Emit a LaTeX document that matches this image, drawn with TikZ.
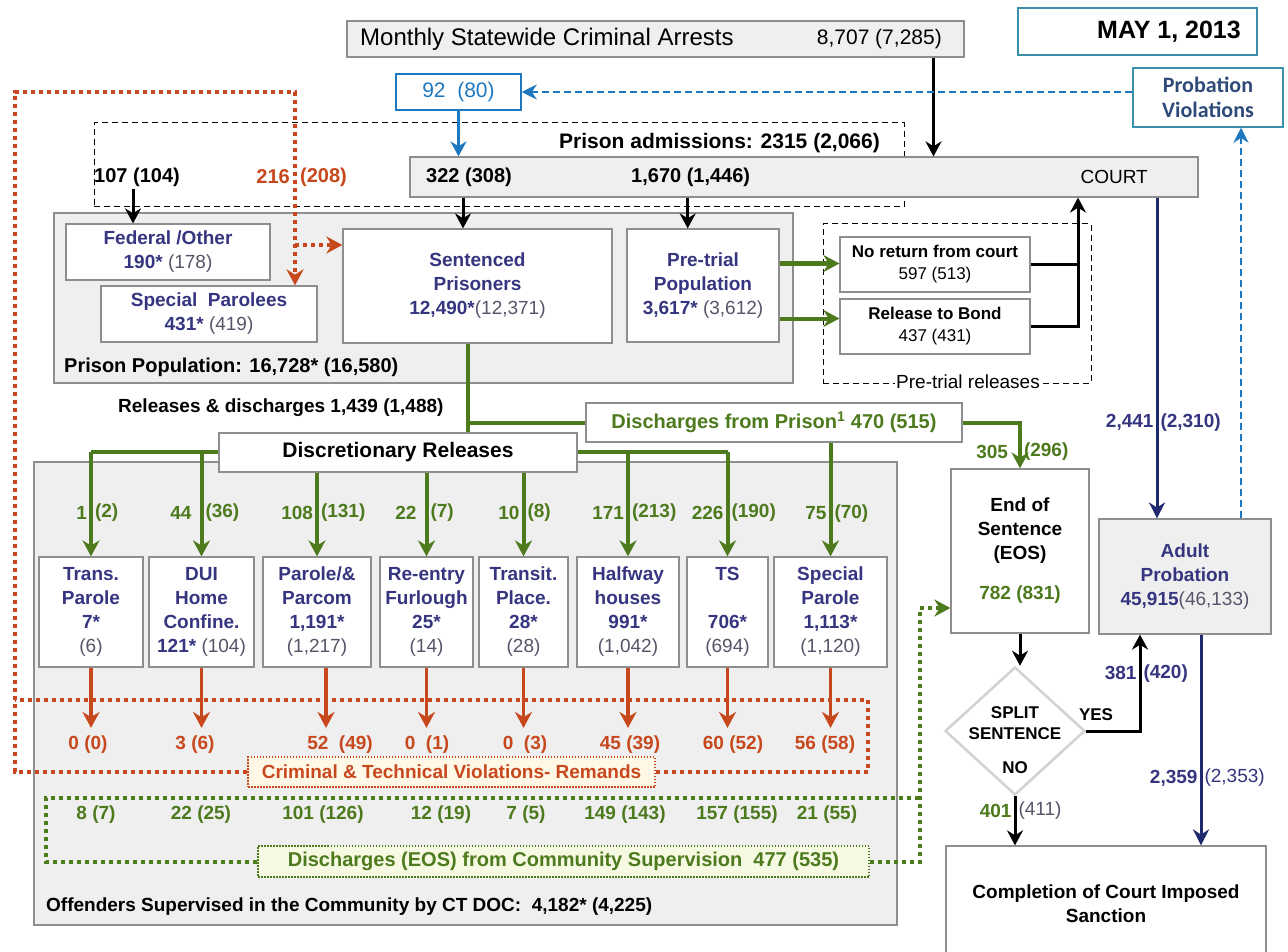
\documentclass[tikz,border=0pt]{standalone}
\usepackage{fontspec}
\setmainfont{Liberation Sans}
\newfontfamily\calib{Carlito}
\usetikzlibrary{arrows.meta,shapes.geometric,positioning}

\definecolor{navy}{HTML}{353580}
\definecolor{pgray}{HTML}{55556A}
\definecolor{grn}{HTML}{4E7A1E}
\definecolor{rust}{HTML}{C8481E}
\definecolor{blu}{HTML}{1E78C0}
\definecolor{tealb}{HTML}{3A8FAA}
\definecolor{pvblue}{HTML}{2E4A78}
\definecolor{navyl}{HTML}{1F2A6E}
\definecolor{lgray}{HTML}{EFEFEF}
\definecolor{bord}{HTML}{8E8E8E}
\definecolor{cream}{HTML}{FFF8E6}
\definecolor{pgreen}{HTML}{F6FAE2}
\definecolor{dgray}{HTML}{D2D2D2}

\newcommand{\fsz}[2]{\fontsize{#1}{#2}\selectfont}
\newcommand{\pn}[1]{{\mdseries\color{pgray}#1}}

\begin{document}
\begin{tikzpicture}[x=1pt,y=-1pt]
  \tikzstyle{every node}=[font=\fsz{19}{23}, inner sep=2pt]
  \tikzstyle{box}=[draw=bord, line width=1.2pt, fill=white, align=center, inner sep=0pt]
  \tikzstyle{gbox}=[box, fill=lgray]
  \tikzstyle{ttl}=[font=\fsz{19}{24}\bfseries, text=navy]
  \tikzstyle{bold}=[font=\fsz{20}{24}\bfseries]
  \tikzstyle{glab}=[text=grn, font=\fsz{19}{23}\bfseries]
  \tikzstyle{rlab}=[text=rust, font=\fsz{19}{23}\bfseries]
  \tikzstyle{nlab}=[text=navy, font=\fsz{19}{23}\bfseries]
  \tikzstyle{garrow}=[-{Stealth[length=16pt,width=17pt]}, line width=4pt, draw=grn]
  \tikzstyle{gline}=[line width=4pt, draw=grn]
  \tikzstyle{barrow}=[-{Stealth[length=15pt,width=16pt]}, line width=3pt, draw=black]
  \tikzstyle{bline}=[line width=3pt, draw=black]
  \tikzstyle{rarrow}=[-{Stealth[length=16pt,width=17pt]}, line width=3.5pt, draw=rust, shorten >=6pt]
  \tikzstyle{narrow}=[-{Stealth[length=16pt,width=16pt]}, line width=3pt, draw=navyl]
  \tikzstyle{blarrow}=[-{Stealth[length=15pt,width=16pt]}, line width=3pt, draw=blu]
  \tikzstyle{bldash}=[-{Stealth[length=15pt,width=15pt]}, line width=2.2pt, draw=blu, dash pattern=on 7pt off 4pt]
  \tikzstyle{rdot}=[line width=4pt, draw=rust, dash pattern=on 4pt off 4pt]
  \tikzstyle{gdot}=[line width=4pt, draw=grn, dash pattern=on 4pt off 4pt]
  \useasboundingbox[fill=white] (0,0) rectangle (1288,952);

  % top of the chart
  \node[gbox, minimum width=617pt, minimum height=36pt] (arrests) at (655.5,39) {};
  \node[anchor=west, font=\fsz{24}{28}] (artxt) at (358,39) {Monthly Statewide Criminal Arrests};
  \node[anchor=east, font=\fsz{21}{25}] (arnum) at (944,39) {8,707 (7,285)};
  \node[draw=tealb, line width=1.5pt, minimum width=239pt, minimum height=47pt] (date) at (1137.5,31.5) {};
  \node[anchor=east, font=\fsz{25}{30}\bfseries] (datetxt) at (1243,31.5) {MAY 1, 2013};
  \node[draw=blu, line width=1.5pt, fill=white, minimum width=125pt, minimum height=36pt, text=blu, font=\fsz{21}{25}] (n92) at (458.5,92) {92\ \ (80)};
  \node[draw=tealb, line width=1.5pt, fill=white, minimum width=150pt, minimum height=59pt, align=center, text=pvblue, font=\calib\fsz{22}{25}\bfseries] (pviol) at (1208,97.5) {Probation\\Violations};

  % admissions and court
  \node[draw, line width=1pt, dash pattern=on 6pt off 4pt, minimum width=810pt, minimum height=84pt] (adm) at (499,165) {};
  \node[anchor=east, font=\fsz{21}{25}\bfseries] (admtxt) at (882,143) {Prison admissions: 2315 (2,066)};
  \node[gbox, minimum width=788pt, minimum height=40pt] (court) at (804,177) {};
  \node[anchor=west, bold] (n322) at (424,177) {322 (308)};
  \node[anchor=west, bold] (n1670) at (629,177) {1,670 (1,446)};
  \node[anchor=east] (courttxt) at (1150,177) {COURT};
  \node[anchor=west, bold] (n107) at (92,177) {107 (104)};
  \node[anchor=east, bold, text=rust] (n216) at (292,177) {216};
  \node[anchor=west, bold, text=rust] (n208) at (298,177) {(208)};

  % prison population
  \node[gbox, minimum width=739pt, minimum height=170pt] (pop) at (423.5,298) {};
  \node[anchor=west, bold] (poptxt) at (62,367) {Prison Population: 16,728* (16,580)};
  \node[box, ttl, minimum width=204pt, minimum height=56pt] (fed) at (168,252) {Federal /Other\\190* \pn{(178)}};
  \node[box, ttl, minimum width=216pt, minimum height=56pt] (spar) at (209,314) {Special\ \ Parolees\\431* \pn{(419)}};
  \node[box, ttl, minimum width=269pt, minimum height=114pt] (sent) at (477.5,286) {Sentenced\\Prisoners\\12,490*\pn{(12,371)}};
  \node[box, ttl, minimum width=152pt, minimum height=113pt] (pre) at (703,285.5) {Pre-trial\\Population\\3,617* \pn{(3,612)}};

  % pre-trial releases
  \node[draw, line width=1pt, dash pattern=on 6pt off 4pt, minimum width=268pt, minimum height=159pt] (ptr) at (957,303.5) {};
  \node[fill=white, inner sep=1pt] (ptrtxt) at (968,382) {Pre-trial releases};
  \node[box, minimum width=190pt, minimum height=55pt, font=\fsz{17}{22}\bfseries] (noret) at (935,264.5) {No return from court\\\mdseries 597 (513)};
  \node[box, minimum width=190pt, minimum height=55pt, font=\fsz{17}{22}\bfseries] (bond) at (935,326.5) {Release to Bond\\\mdseries 437 (431)};

  % community supervision
  \node[gbox, minimum width=863pt, minimum height=463pt] (comm) at (465.5,693.5) {};
  \node[box, ttl, minimum width=104pt, minimum height=110pt] (trp) at (91,612) {Trans.\\Parole\\7*\\\pn{(6)}};
  \node[box, ttl, minimum width=105pt, minimum height=110pt] (dui) at (201.5,612) {DUI\\Home\\Confine.\\121* \pn{(104)}};
  \node[box, ttl, minimum width=108pt, minimum height=110pt] (par) at (317,612) {Parole/\&\\Parcom\\1,191*\\\pn{(1,217)}};
  \node[box, ttl, minimum width=93pt, minimum height=110pt] (ref) at (426.5,612) {Re-entry\\Furlough\\25*\\\pn{(14)}};
  \node[box, ttl, minimum width=89pt, minimum height=110pt] (tpl) at (523.5,612) {Transit.\\Place.\\28*\\\pn{(28)}};
  \node[box, ttl, minimum width=102pt, minimum height=110pt] (hwh) at (628,612) {Halfway\\houses\\991*\\\pn{(1,042)}};
  \node[box, ttl, minimum width=81pt, minimum height=110pt] (ts) at (727.5,612) {TS\\~\\706*\\\pn{(694)}};
  \node[box, ttl, minimum width=113pt, minimum height=110pt] (sp) at (830.5,612) {Special\\Parole\\1,113*\\\pn{(1,120)}};
  \node[anchor=west, bold, font=\fsz{19}{23}\bfseries] (reltxt) at (116,408) {Releases \& discharges 1,439 (1,488)};

  % green flows out of prison
  \coordinate (bus) at (0,452);
  \draw[gline] (trp.north |- bus) -- (ts.north |- bus);
  \node[box, minimum width=358pt, minimum height=39pt, font=\fsz{21}{25}\bfseries] (disc) at (398,452.5) {Discretionary Releases};
  \node[box, minimum width=376pt, minimum height=39pt, text=grn, font=\fsz{20}{24}\bfseries] (dpr) at (774,422.5) {Discharges from Prison\textsuperscript{1} 470\ (515)};
  \draw[gline] ([xshift=-10pt]sent.south) -- ([xshift=-10pt]sent.south |- disc.north);
  \draw[gline] ([xshift=-10pt]sent.south |- dpr.west) -- (dpr.west);
  \draw[garrow] (trp.north |- bus) -- node[glab,pos=.58,left]{1} node[glab,pos=.58,right]{(2)} (trp.north);
  \draw[garrow] (dui.north |- bus) -- node[glab,pos=.58,left=6pt]{44} node[glab,pos=.58,right]{(36)} (dui.north);
  \draw[garrow] (par.north |- disc.south) -- node[glab,pos=.48,left]{108} node[glab,pos=.48,right]{(131)} (par.north);
  \draw[garrow] (ref.north |- disc.south) -- node[glab,pos=.48,left=6pt]{22} node[glab,pos=.48,right]{(7)} (ref.north);
  \draw[garrow] (tpl.north |- disc.south) -- node[glab,pos=.48,left]{10} node[glab,pos=.48,right]{(8)} (tpl.north);
  \draw[garrow] (hwh.north |- bus) -- node[glab,pos=.58,left]{171} node[glab,pos=.58,right]{(213)} (hwh.north);
  \draw[garrow] (ts.north |- bus) -- node[glab,pos=.58,left]{226} node[glab,pos=.58,right]{(190)} (ts.north);
  \draw[garrow] (sp.north |- dpr.south) -- node[glab,pos=.62,left]{75} node[glab,pos=.62,right]{(70)} (sp.north);

  % end of sentence, probation and completion
  \node[box, minimum width=138pt, minimum height=164pt, font=\fsz{19}{24}\bfseries] (eos) at (1020,551) {End of\\Sentence\\(EOS)\\[16pt]\textcolor{grn}{782 (831)}};
  \node[gbox, ttl, minimum width=172pt, minimum height=115pt] (adult) at (1185,576.5) {Adult\\Probation\\45,915\pn{(46,133)}};
  \node[diamond, draw=dgray, line width=2.5pt, fill=white, minimum width=140pt, minimum height=128pt, inner sep=0pt] (split) at (1015,731) {};
  \node[align=center, font=\fsz{17}{21}\bfseries] (spltxt) at (1015,723) {SPLIT\\SENTENCE};
  \node[font=\fsz{17}{21}\bfseries] (notxt) at (1015,768) {NO};
  \node[font=\fsz{17}{21}\bfseries] (yestxt) at (1096,715) {YES};
  \node[box, minimum width=320pt, minimum height=116pt, font=\fsz{19}{24}\bfseries] (compl) at (1106,904) {Completion of Court Imposed\\Sanction};

  % violations and discharges from the community
  \foreach \i/\x/\t in {1/88/0 (0), 2/195/3 (6), 3/340/52\ \ (49), 4/427/0\ \ (1), 5/525/0\ \ (3), 6/630/45 (39), 7/733/60 (52), 8/825/56 (58)}
    \node[rlab] (r\i) at (\x,745) {\t};
  \foreach \i/\x/\t in {1/96/8 (7), 2/201/22 (25), 3/323/101 (126), 4/441/12 (19), 5/526/7 (5), 6/625/149 (143), 7/737/157 (155), 8/827/21 (55)}
    \node[glab] (d\i) at (\x,815) {\t};
  \draw[rarrow] (trp.south) -- (trp.south |- r1.north);
  \draw[rarrow] (dui.south) -- (dui.south |- r2.north);
  \draw[rarrow] ([xshift=9pt]par.south) -- ([xshift=9pt]par.south |- r3.north);
  \draw[rarrow] (ref.south) -- (ref.south |- r4.north);
  \draw[rarrow] (tpl.south) -- (tpl.south |- r5.north);
  \draw[rarrow] (hwh.south) -- (hwh.south |- r6.north);
  \draw[rarrow] (ts.south) -- (ts.south |- r7.north);
  \draw[rarrow] (sp.south) -- (sp.south |- r8.north);
  \node[draw=rust, line width=1.5pt, dash pattern=on 1.5pt off 1.5pt, fill=cream, minimum width=407pt, minimum height=30pt, text=rust, font=\fsz{19}{23}\bfseries] (crim) at (451.5,772) {Criminal \& Technical Violations- Remands};
  \node[draw=grn, line width=1.5pt, dash pattern=on 1.5pt off 1.5pt, fill=pgreen, minimum width=611pt, minimum height=31pt, text=grn, font=\fsz{20}{24}\bfseries] (dcs) at (563.5,861.5) {Discharges (EOS) from Community Supervision\ \ 477 (535)};
  \node[anchor=west, font=\fsz{19}{23}\bfseries] (offtxt) at (44,907) {Offenders Supervised in the Community by CT DOC:\ \ 4,182* (4,225)};

  % red remand loop
  \coordinate (rtl) at (15,92);
  \coordinate (rtr) at (295,92);
  \coordinate (rbr) at (868,700);
  \coordinate (sentin) at ([yshift=41pt]sent.west);
  \draw[rdot] (crim.east) -| (rbr) -- (rbr -| rtl);
  \draw[rdot, -{Stealth[length=16pt,width=17pt]}] (crim.west) -| (rtl) -- (rtr) -- (rtr |- spar.north);
  \draw[rdot, -{Stealth[length=16pt,width=17pt]}] (rtr |- sentin) -- (sentin);

  % green discharge loop
  \coordinate (gtl) at (46,798);
  \coordinate (gx) at (920,608);
  \coordinate (eosin) at (eos.west |- gx);
  \draw[gdot] (dcs.west) -| (gtl) -- (gtl -| gx);
  \draw[gdot, -{Stealth[length=16pt,width=17pt]}] (dcs.east) -| (gx) -- (eosin);

  % black, blue and navy connectors
  \draw[barrow] ([xshift=278pt]arrests.south) -- ([xshift=278pt]arrests.south |- court.north);
  \draw[blarrow] (n92.south) -- (n92.south |- court.north);
  \draw[bldash] (pviol.west |- n92.east) -- (n92.east);
  \draw[bldash] ([xshift=56pt]adult.north) -- ([xshift=56pt]adult.north |- pviol.south);
  \draw[barrow] ([xshift=-4pt]n107.south) -- ([xshift=-4pt]n107.south |- fed.north);
  \draw[barrow] ([xshift=-6pt]n322.south |- court.south) -- ([xshift=-6pt]n322.south |- sent.north);
  \draw[barrow] ([xshift=-3pt]n1670.south |- court.south) -- ([xshift=-3pt]n1670.south |- pre.north);
  \draw[garrow] ([yshift=22pt]pre.east) -- ([yshift=22pt]pre.east -| noret.west);
  \draw[garrow] ([yshift=-33pt]pre.east) -- ([yshift=-33pt]pre.east -| bond.west);
  \coordinate (pj) at (1078,325);
  \draw[bline] (noret.east) -- (noret.east -| pj);
  \draw[barrow] (bond.east) -- (bond.east -| pj) -- (pj |- court.south);
  \draw[garrow] (dpr.east) -| node[glab,pos=.82,left=8pt]{305} node[glab,pos=.82,right]{(296)} (eos.north);
  \draw[narrow] ([xshift=-28pt]adult.north |- court.south) -- node[nlab,pos=.7,left]{2,441} node[nlab,pos=.7,right]{(2,310)} ([xshift=-28pt]adult.north);
  \draw[narrow] ([xshift=16pt]adult.south) -- node[nlab,pos=.68,left]{2,359} node[pos=.68,right,text=navy]{(2,353)} ([xshift=16pt]adult.south |- compl.north);
  \draw[barrow] (eos.south) -- (eos.south |- split.north);
  \draw[barrow] (split.east) -| node[nlab,pos=.8,left]{381} node[nlab,pos=.8,right]{(420)} ([xshift=-45pt]adult.south);
  \draw[barrow] (split.south) -- node[glab,pos=.3,left]{401} node[pos=.3,right,text=pgray]{(411)} (split.south |- compl.north);
\end{tikzpicture}
\end{document}
